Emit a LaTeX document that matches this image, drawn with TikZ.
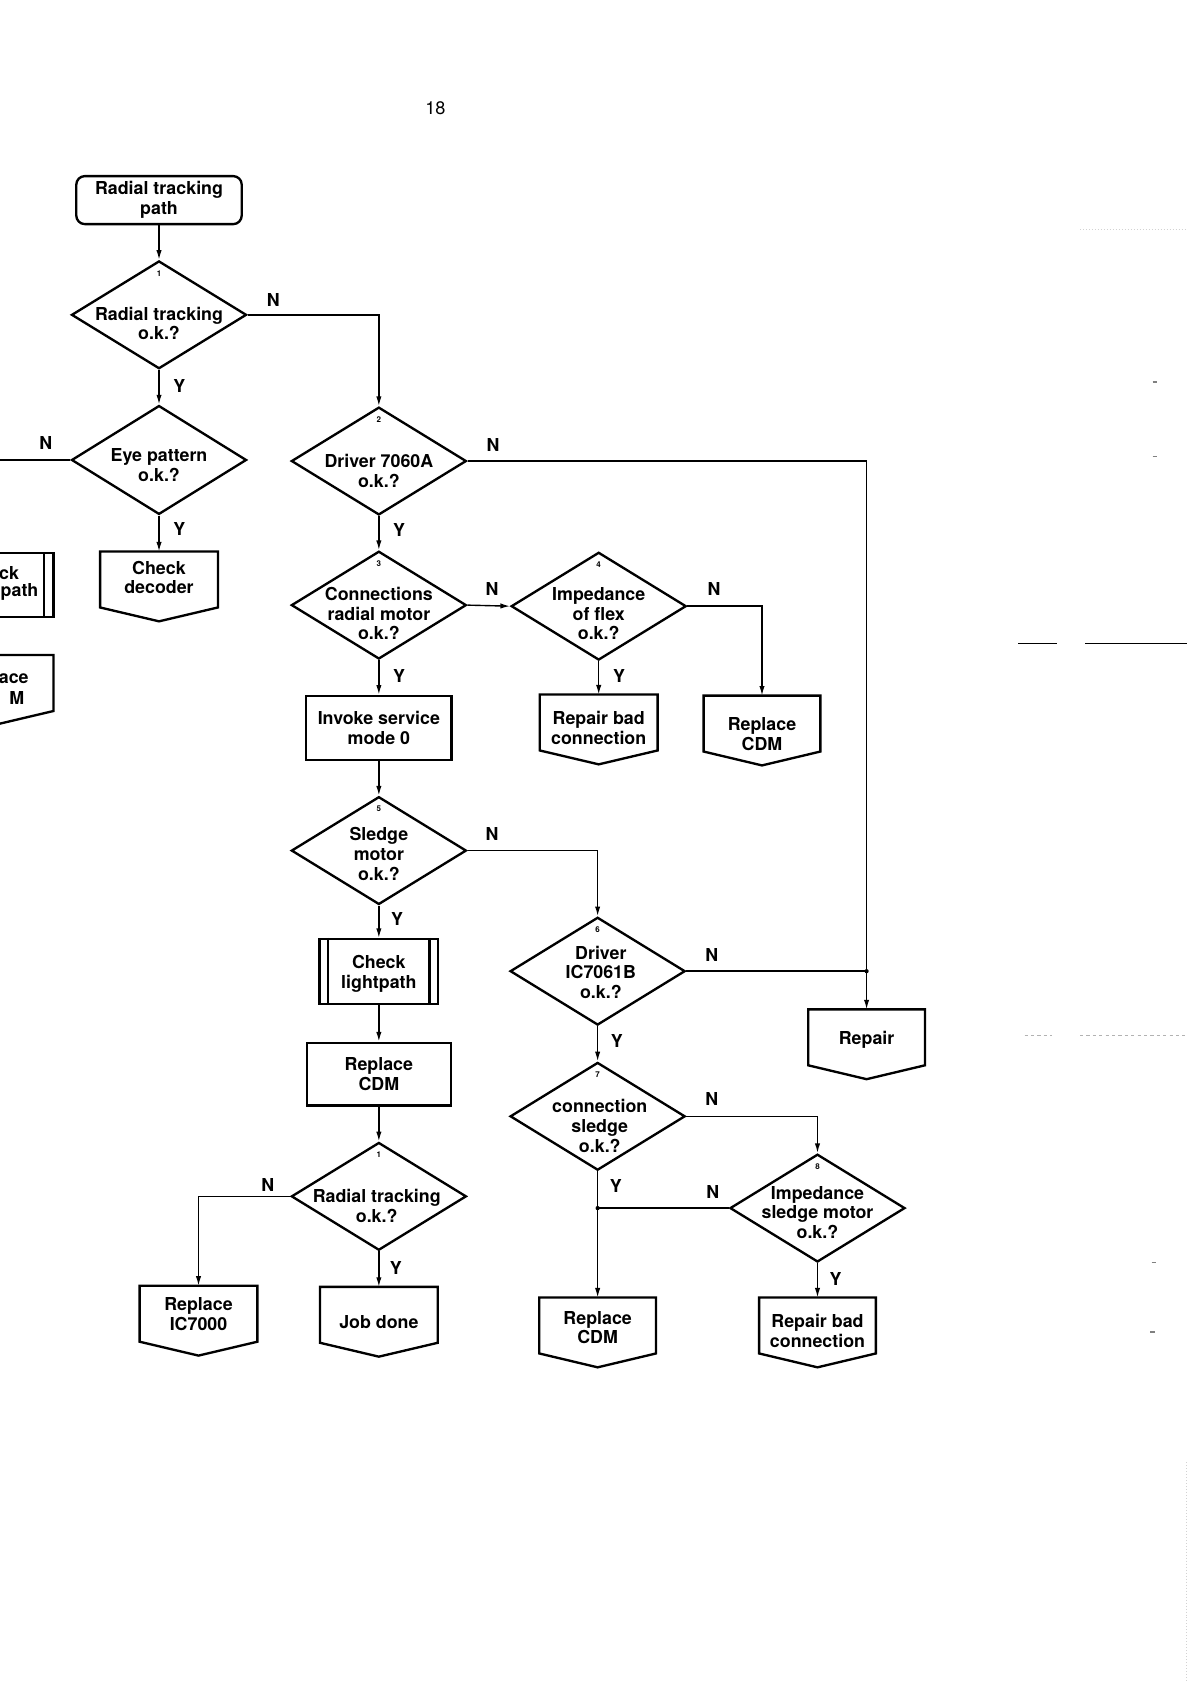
\documentclass[tikz,border=0pt]{standalone}
\usepackage{fontspec}
\setmainfont{TeX Gyre Heros}
\usetikzlibrary{shapes.geometric,arrows.meta,calc}
\newcommand\offpg[1]{\draw[shapeline] (#1.north west) -- (#1.north east) -- (#1.south east) -- ($(#1.south)+(0,13)$) -- (#1.south west) -- cycle;}
\begin{document}
\begin{tikzpicture}[x=1pt,y=-1pt,
  txt/.style={font=\bfseries\fontsize{16.7}{18.5}\selectfont, align=center, inner sep=0pt},
  yn/.style={font=\bfseries\fontsize{16.7}{18}\selectfont, inner sep=0pt},
  num/.style={font=\bfseries\fontsize{7.5}{7.5}\selectfont, inner sep=0pt},
  shapeline/.style={line width=2.2pt, line join=miter},
  dia/.style={diamond, draw, shapeline, minimum width=164pt, minimum height=101pt, inner sep=0pt},
  box/.style={rectangle, draw, shapeline, txt, minimum width=136pt, minimum height=60pt},
  offp/.style={rectangle, draw=none, minimum width=110pt, minimum height=52pt, inner sep=0pt},
  conn/.style={line width=1.3pt, -{Latex[length=9pt,width=5pt]}},
  plain/.style={line width=1.3pt},
  scan/.style={line width=0.8pt, gray!60}
]
\clip (0,0) rectangle (1116,1577);
\fill[white] (0,0) rectangle (1116,1577);

% page number
\node[font=\fontsize{17}{17}\selectfont, inner sep=0pt] (pg) at (408,101) {18};

% ---------- left column ----------
\node[box, rounded corners=8pt, minimum width=155pt, minimum height=45pt] (start) at (149,187.5) {Radial tracking\\path};

\node[dia] (d1) at (149,295) {};
\node[num] (d1n) at (149,256) {1};
\node[txt] (d1t) at (149,303) {Radial tracking\\o.k.?};

\node[dia, minimum height=102pt] (eye) at (149,431) {};
\node[txt] (eyet) at (149,436) {Eye pattern\\o.k.?};

\node[offp] (dec) at (149,543) {};
\offpg{dec}
\node[txt] (dect) at (149,541) {Check\\decoder};

% cut-off nodes on the left edge
\node[rectangle, draw, shapeline, minimum width=114pt, minimum height=60pt] (clpL) at (-7,548) {};
\draw[shapeline] (41,518) -- (41,578);
\node[txt, anchor=east] (clpLa) at (18,537) {ck};
\node[txt, anchor=west] (clpLb) at (0.5,555) {path};
\node[offp] (rcL) at (-5,640) {};
\offpg{rcL}
\node[txt, anchor=east] (rcLa) at (27,636) {ace};
\node[txt, anchor=east] (rcLb) at (23,654) {M};

% ---------- middle column ----------
\node[dia] (d2) at (355,432) {};
\node[num] (d2n) at (355,393) {2};
\node[txt] (d2t) at (355,441) {Driver 7060A\\o.k.?};

\node[dia] (d3) at (355,567) {};
\node[num] (d3n) at (355,528) {3};
\node[txt] (d3t) at (355,575) {Connections\\radial motor\\o.k.?};

\node[dia] (d4) at (561,568) {};
\node[num] (d4n) at (561,529) {4};
\node[txt] (d4t) at (561,575) {Impedance\\of flex\\o.k.?};

\node[box] (inv) at (355,682) {Invoke service\\mode 0};
\node[offp] (rb1) at (561,677) {};
\offpg{rb1}
\node[txt] (rb1t) at (561,682) {Repair bad\\connection};
\node[offp, minimum width=109pt] (rc1) at (714,678) {};
\offpg{rc1}
\node[txt] (rc1t) at (714,688) {Replace\\CDM};

\node[dia] (d5) at (355,797) {};
\node[num] (d5n) at (355,758) {5};
\node[txt] (d5t) at (355,800) {Sledge\\motor\\o.k.?};

\node[rectangle, draw, shapeline, minimum width=111pt, minimum height=61pt] (clp) at (355,910.5) {};
\draw[shapeline] (clp.north west) ++(9,0) -- ++(0,61);
\draw[shapeline] (clp.north east) ++(-9,0) -- ++(0,61);
\node[txt] (clpt) at (355,912.5) {Check\\lightpath};

\node[box, minimum width=135pt, minimum height=59pt] (rc2) at (355,1006.5) {Replace\\CDM};

\node[dia] (d1b) at (355,1121) {};
\node[num] (d1bn) at (355,1082) {1};
\node[txt] (d1bt) at (353,1130) {Radial tracking\\o.k.?};

\node[offp] (ic) at (186,1231) {};
\offpg{ic}
\node[txt] (ict) at (186,1231) {Replace\\IC7000};
\node[offp] (job) at (355,1232) {};
\offpg{job}
\node[txt] (jobt) at (355,1239) {Job done};

% ---------- right columns ----------
\node[dia] (d6) at (560,910) {};
\node[num] (d6n) at (560,871) {6};
\node[txt] (d6t) at (563,911) {Driver\\IC7061B\\o.k.?};

\node[offp, minimum width=109pt] (rep) at (812,972) {};
\offpg{rep}
\node[txt] (rept) at (812,974) {Repair};

\node[dia] (d7) at (560,1046) {};
\node[num] (d7n) at (560,1007) {7};
\node[txt] (d7t) at (562,1055) {connection\\sledge\\o.k.?};

\node[dia] (d8) at (766,1132) {};
\node[num] (d8n) at (766,1093) {8};
\node[txt] (d8t) at (766,1136) {Impedance\\sledge motor\\o.k.?};

\node[offp, minimum width=109pt] (rc3) at (560,1242) {};
\offpg{rc3}
\node[txt] (rc3t) at (560,1244) {Replace\\CDM};
\node[offp, minimum width=109pt] (rb2) at (766,1242) {};
\offpg{rb2}
\node[txt] (rb2t) at (766,1247) {Repair bad\\connection};

% ---------- connectors ----------
\draw[conn] (start.south) -- (d1.north);
\draw[conn] (d1.east) -| (d2.north);
\draw[conn] (d1.south) -- (eye.north);
\coordinate (eyeL) at (-2,431);
\draw[plain] (eye.west) -- (eyeL);
\draw[conn] (eye.south) -- (dec.north);

\draw[conn] (d2.east) -| (rep.north);
\draw[conn] (d2.south) -- (d3.north);
\draw[conn] (d3.east) -- (d4.west);
\draw[conn] (d4.east) -| (rc1.north);
\draw[conn] (d4.south) -- (rb1.north);
\draw[conn] (d3.south) -- (inv.north);
\draw[conn] (inv.south) -- (d5.north);
\draw[conn] (d5.east) -| (d6.north);
\draw[conn] (d5.south) -- (clp.north);
\draw[conn] (clp.south) -- (rc2.north);
\draw[conn] (rc2.south) -- (d1b.north);
\draw[conn] (d1b.west) -| (ic.north);
\draw[conn] (d1b.south) -- (job.north);

\coordinate (j1) at (812,910);
\draw[plain] (d6.east) -- (j1);
\fill (j1) circle (2pt);
\draw[conn] (d6.south) -- (d7.north);
\draw[conn] (d7.east) -| (d8.north);
\draw[conn] (d7.south) -- (rc3.north);
\coordinate (j2) at (560,1132);
\draw[plain] (d8.west) -- (j2);
\fill (j2) circle (2pt);
\draw[conn] (d8.south) -- (rb2.north);

% ---------- Y / N labels ----------
\node[yn] (l1) at (256,281) {N};
\node[yn] (l2) at (168,362) {Y};
\node[yn] (l3) at (43,415) {N};
\node[yn] (l4) at (168,496) {Y};
\node[yn] (l5) at (462,417) {N};
\node[yn] (l6) at (374,497) {Y};
\node[yn] (l7) at (461,552) {N};
\node[yn] (l8) at (669,552) {N};
\node[yn] (l9) at (580,633) {Y};
\node[yn] (l10) at (374,633) {Y};
\node[yn] (l11) at (461,781) {N};
\node[yn] (l12) at (372,861) {Y};
\node[yn] (l13) at (667,895) {N};
\node[yn] (l14) at (578,975) {Y};
\node[yn] (l15) at (667,1030) {N};
\node[yn] (l16) at (577,1111) {Y};
\node[yn] (l17) at (668,1117) {N};
\node[yn] (l18) at (783,1198) {Y};
\node[yn] (l19) at (251,1110) {N};
\node[yn] (l20) at (371,1188) {Y};

% ---------- scan marks on the right ----------
\draw[line width=1pt] (954,603) -- (990,603);
\draw[line width=1pt] (1017,603) -- (1112,603);
\draw[scan, dashed] (960,970) -- (986,970);
\draw[scan, dashed] (1012,970) -- (1110,970);
\draw[scan, gray!35, dotted] (1012,215) -- (1112,215);
\draw[line width=1.2pt, gray] (1080,358) -- (1084,358);
\draw[line width=1.2pt, gray] (1080,428) -- (1084,428);
\draw[line width=1.2pt, gray] (1079,1183) -- (1083,1183);
\draw[line width=1.2pt, gray] (1078,1248) -- (1082,1248);
\draw[scan, gray!35, dotted] (1112,1370) -- (1112,1577);
\end{tikzpicture}
\end{document}
